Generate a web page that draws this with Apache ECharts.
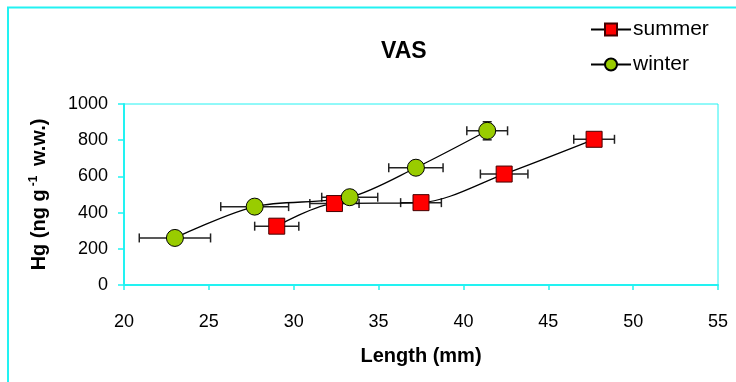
<!DOCTYPE html>
<html>
    <head>
        <meta charset="utf-8">
        <script src="https://cdn.jsdelivr.net/npm/echarts@6/dist/echarts.min.js"></script>
        <style>
            html, body {
                margin: 0;
                padding: 0;
                background-color: #fff;
            }
            #main {
                width: 736px;
                height: 382px;
            }
        </style>
    </head>
    <body>
        <div id="main"></div>

        <script>
        // values
        const summerLength = [29.0, 32.4, 37.5, 42.4, 47.7];
        const summerHg = [325, 450, 455, 613, 805];
        const summerLengthErr = [1.3, 1.45, 1.2, 1.4, 1.2];
        const summerHgErr = [0, 0, 0, 0, 0];

        const winterLength = [23.0, 27.7, 33.3, 37.2, 41.4];
        const winterHg = [260, 433, 485, 648, 852];
        const winterLengthErr = [2.1, 2.0, 1.65, 1.6, 1.2];
        const winterHgErr = [0, 0, 0, 0, 50];

        const font = 'Arial, "Liberation Sans", sans-serif';
        const cyan = '#22f2f2';

        function zip(xs, ys) {
            return xs.map(function (x, i) { return [x, ys[i]]; });
        }
        function zipErr(xs, ys, xe, ye) {
            return xs.map(function (x, i) { return [x, ys[i], xe[i], ye[i]]; });
        }

        function renderErrorBar(params, api) {
            const x = api.value(0);
            const y = api.value(1);
            const ex = api.value(2);
            const ey = api.value(3);
            const cap = 4.5;
            const style = { stroke: '#222', lineWidth: 1.5 };
            const left = api.coord([x - ex, y]);
            const right = api.coord([x + ex, y]);
            const children = [
                { type: 'line', shape: { x1: left[0], y1: left[1], x2: right[0], y2: right[1] }, style: style },
                { type: 'line', shape: { x1: left[0], y1: left[1] - cap, x2: left[0], y2: left[1] + cap }, style: style },
                { type: 'line', shape: { x1: right[0], y1: right[1] - cap, x2: right[0], y2: right[1] + cap }, style: style }
            ];
            if (ey > 0) {
                const lo = api.coord([x, y - ey]);
                const hi = api.coord([x, y + ey]);
                children.push(
                    { type: 'line', shape: { x1: lo[0], y1: lo[1], x2: hi[0], y2: hi[1] }, style: style },
                    { type: 'line', shape: { x1: lo[0] - cap, y1: lo[1], x2: lo[0] + cap, y2: lo[1] }, style: style },
                    { type: 'line', shape: { x1: hi[0] - cap, y1: hi[1], x2: hi[0] + cap, y2: hi[1] }, style: style }
                );
            }
            return { type: 'group', children: children };
        }

        const chart = echarts.init(document.getElementById('main'));
        chart.setOption({
            animation: false,
            backgroundColor: '#fff',
            textStyle: { fontFamily: font, color: '#000' },
            graphic: [{
                type: 'rect',
                shape: { x: 8, y: 7.5, width: 800, height: 400 },
                style: { fill: 'none', stroke: cyan, lineWidth: 2 },
                silent: true
            }],
            title: {
                text: 'VAS',
                left: 376,
                top: 35,
                textStyle: { fontFamily: font, fontSize: 23, fontWeight: 'bold', color: '#000' }
            },
            legend: {
                data: ['summer', 'winter'],
                orient: 'vertical',
                left: 585,
                top: 14,
                itemWidth: 40,
                itemHeight: 15,
                itemGap: 14,
                textStyle: { fontFamily: font, fontSize: 21, color: '#000', padding: [0, 0, 0, -3] }
            },
            grid: {
                left: 124,
                right: 18,
                top: 104,
                bottom: 97,
                show: true,
                borderColor: cyan,
                borderWidth: 1
            },
            xAxis: {
                type: 'value',
                min: 20,
                max: 55,
                interval: 5,
                name: 'Length (mm)',
                nameLocation: 'middle',
                nameGap: 61,
                nameTextStyle: { fontFamily: font, fontSize: 20, fontWeight: 'bold', color: '#000' },
                splitLine: { show: false },
                axisLine: { lineStyle: { color: cyan, width: 2 } },
                axisTick: { length: 5, lineStyle: { color: cyan, width: 1.5 } },
                axisLabel: { margin: 28, fontSize: 18, color: '#000', fontFamily: font }
            },
            yAxis: {
                type: 'value',
                min: 0,
                max: 1000,
                interval: 200,
                name: '{a|Hg (ng g}{sup|-1}{a| w.w.)}',
                nameLocation: 'middle',
                nameGap: 74,
                nameTextStyle: {
                    rich: {
                        a: { fontFamily: font, fontSize: 20, fontWeight: 'bold', color: '#000' },
                        sup: { fontFamily: font, fontSize: 12, fontWeight: 'bold', color: '#000', verticalAlign: 'top', padding: [0, 4, 10, 3] }
                    }
                },
                splitLine: { show: false },
                axisLine: { show: true, lineStyle: { color: cyan, width: 2 } },
                axisTick: { show: true, length: 6, lineStyle: { color: cyan, width: 1.5 } },
                axisLabel: {
                    margin: 16,
                    fontSize: 18,
                    color: '#000',
                    fontFamily: font,
                    formatter: function (v) { return String(v); }
                }
            },
            series: [
                {
                    type: 'custom',
                    name: 'summer err',
                    renderItem: renderErrorBar,
                    encode: { x: 0, y: 1 },
                    z: 1,
                    data: zipErr(summerLength, summerHg, summerLengthErr, summerHgErr)
                },
                {
                    type: 'custom',
                    name: 'winter err',
                    renderItem: renderErrorBar,
                    encode: { x: 0, y: 1 },
                    z: 1,
                    data: zipErr(winterLength, winterHg, winterLengthErr, winterHgErr)
                },
                {
                    type: 'line',
                    name: 'summer',
                    smooth: 0.3,
                    symbol: 'rect',
                    symbolSize: 16,
                    z: 3,
                    lineStyle: { color: '#000', width: 1.3 },
                    itemStyle: { color: '#ff0000', borderColor: '#400', borderWidth: 1 },
                    data: zip(summerLength, summerHg)
                },
                {
                    type: 'line',
                    name: 'winter',
                    smooth: 0.3,
                    symbol: 'circle',
                    symbolSize: 17,
                    z: 3,
                    lineStyle: { color: '#000', width: 1.3 },
                    itemStyle: { color: '#99cc00', borderColor: '#000', borderWidth: 1 },
                    data: zip(winterLength, winterHg)
                }
            ]
        });
        </script>
    </body>
</html>
